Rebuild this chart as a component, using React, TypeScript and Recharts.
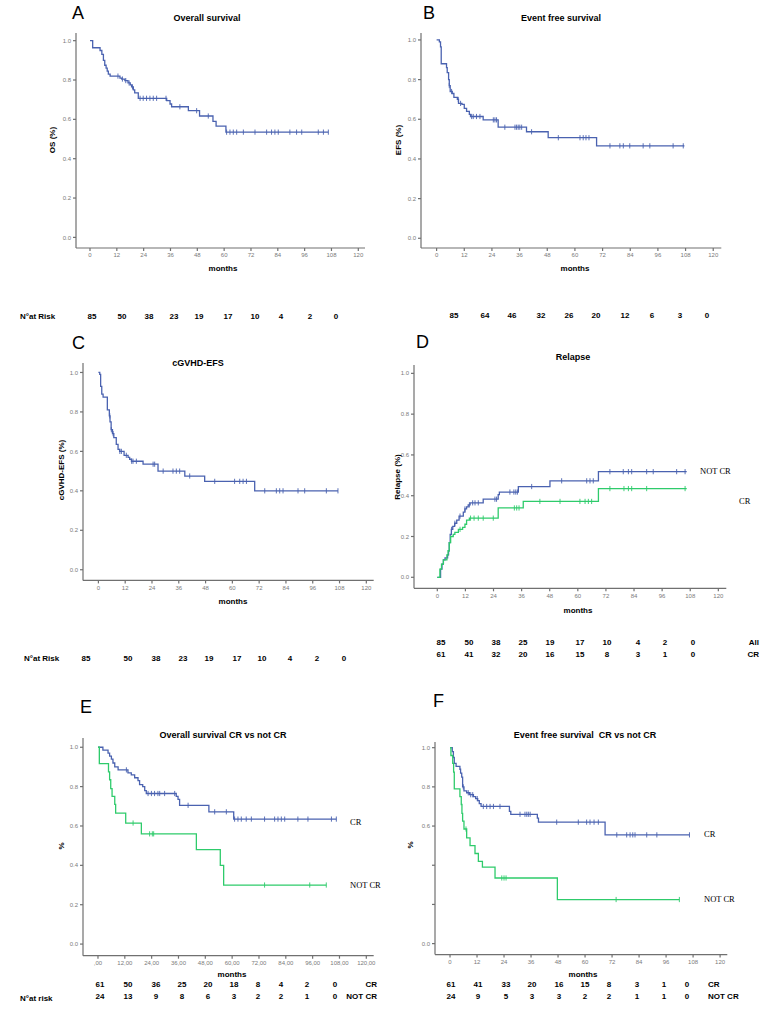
import React from "react";
import { ComposedChart, Line, Scatter, XAxis, YAxis } from "recharts";

// ---------------- DATA ----------------
// A: Overall survival
const osT = [0, 1.2, 4.5, 5.3, 6.0, 6.6, 7.2, 7.7, 8.2, 9.0, 13.4, 14.2, 15.6, 17.0, 18.0, 18.6, 19.4, 20.0, 21.6, 34.3, 35.8, 36.5, 44.0, 49.0, 55.0, 56.4, 60.8];
const osS = [1.0, 0.964, 0.95, 0.93, 0.9, 0.875, 0.86, 0.845, 0.83, 0.82, 0.81, 0.805, 0.797, 0.785, 0.775, 0.765, 0.75, 0.735, 0.707, 0.695, 0.678, 0.664, 0.644, 0.617, 0.59, 0.566, 0.535];
const osEnd = 106.6;
const osCens = [12.5, 14.5, 16.0, 17.5, 19.0, 22.4, 23.8, 25.3, 26.8, 28.3, 29.8, 34.0, 40.2, 47.7, 52.9, 61.1, 62.6, 64.1, 65.6, 68.6, 73.8, 79.0, 81.2, 82.7, 84.2, 89.4, 92.4, 94.7, 102.1, 104.4, 106.6];
const riskA = ["85", "50", "38", "23", "19", "17", "10", "4", "2", "0"];

// B: Event free survival
const efsT = [0, 1.2, 1.7, 2.0, 4.3, 4.6, 5.2, 5.5, 5.9, 6.8, 7.5, 9.0, 9.5, 11.0, 12.0, 13.0, 14.2, 14.7, 20.2, 26.7, 39.0, 48.4, 69.4];
const efsS = [1.0, 0.99, 0.965, 0.88, 0.86, 0.835, 0.8, 0.77, 0.74, 0.73, 0.71, 0.7, 0.68, 0.675, 0.655, 0.64, 0.625, 0.614, 0.597, 0.56, 0.537, 0.507, 0.466];
const efsEnd = 107.5;
const efsCens = [5.5, 6.5, 9.4, 10.4, 15.2, 15.9, 17.3, 18.8, 24.6, 25.3, 26.0, 29.6, 34.0, 34.7, 35.4, 36.1, 36.9, 41.2, 52.8, 62.2, 63.6, 64.8, 66.1, 75.2, 79.5, 81.0, 83.8, 89.6, 92.5, 102.6, 107.0];
const riskB = ["85", "64", "46", "32", "26", "20", "12", "6", "3", "0"];

// C: cGVHD-EFS
const gT = [0, 0.6, 1.0, 1.5, 2.1, 4.0, 4.9, 5.2, 5.7, 6.3, 6.9, 8.0, 8.8, 9.5, 11.5, 13.3, 14.0, 14.8, 20.0, 26.7, 38.7, 47.6, 70.0];
const gS = [1.0, 0.99, 0.93, 0.89, 0.875, 0.81, 0.78, 0.75, 0.71, 0.69, 0.67, 0.635, 0.61, 0.6, 0.58, 0.57, 0.56, 0.55, 0.535, 0.5, 0.475, 0.448, 0.4];
const gEnd = 107.3;
const gCens = [5.1, 5.8, 6.6, 9.6, 10.3, 12.5, 14.9, 15.5, 17.0, 24.5, 25.2, 29.0, 33.4, 34.9, 36.4, 40.9, 52.1, 61.0, 63.3, 64.8, 66.3, 74.5, 79.7, 81.2, 82.7, 89.4, 92.4, 102.1, 107.3];
const riskC = ["85", "50", "38", "23", "19", "17", "10", "4", "2", "0"];

// D: Relapse
const relAllT = [0, 1.4, 2.0, 2.6, 3.3, 4.4, 4.8, 5.1, 5.5, 6.0, 6.6, 7.4, 8.3, 9.3, 11.1, 11.8, 12.5, 13.2, 14.0, 19.6, 26.0, 26.5, 34.6, 48.1, 68.8];
const relAllS = [0, 0.04, 0.065, 0.085, 0.095, 0.11, 0.13, 0.17, 0.21, 0.235, 0.25, 0.265, 0.28, 0.3, 0.32, 0.335, 0.345, 0.355, 0.365, 0.383, 0.405, 0.418, 0.445, 0.473, 0.518];
const relAllEnd = 106.5;
const relAllCens = [6.1, 7.5, 9.7, 11.8, 13.7, 15.1, 16.1, 17.5, 24.6, 25.3, 31.0, 32.7, 33.5, 34.2, 40.3, 53.1, 63.8, 65.2, 66.6, 73.7, 79.4, 81.6, 83.0, 89.4, 92.2, 102.2, 105.8];
const relCrT = [0, 1.1, 1.8, 2.6, 4.1, 4.6, 5.1, 5.7, 6.8, 7.5, 9.0, 10.8, 11.8, 12.5, 13.7, 26.0, 36.7, 68.8];
const relCrS = [0, 0.04, 0.065, 0.085, 0.11, 0.13, 0.17, 0.2, 0.21, 0.22, 0.235, 0.245, 0.26, 0.28, 0.29, 0.34, 0.372, 0.435];
const relCrEnd = 106.5;
const relCrCens = [9.7, 14.2, 15.7, 17.5, 19.6, 23.9, 32.9, 33.9, 34.9, 43.8, 52.4, 60.9, 63.1, 64.5, 65.9, 73.7, 79.7, 81.6, 83.0, 89.4, 105.8];
const riskDAll = ["85", "50", "38", "25", "19", "17", "10", "4", "2", "0"];
const riskDCr = ["61", "41", "32", "20", "16", "15", "8", "3", "1", "0"];

// E: Overall survival CR vs not CR
const osCrT = [0, 2.2, 4.5, 5.2, 6.0, 6.7, 7.5, 9.0, 13.4, 14.9, 16.4, 17.9, 18.6, 20.0, 20.9, 21.6, 35.0, 35.8, 36.5, 49.6, 60.7];
const osCrS = [1.0, 0.985, 0.97, 0.955, 0.94, 0.92, 0.9, 0.885, 0.87, 0.86, 0.845, 0.83, 0.81, 0.8, 0.78, 0.765, 0.75, 0.735, 0.705, 0.672, 0.635];
const osCrEnd = 106.6;
const osCrCens = [12.7, 22.4, 23.9, 25.3, 26.8, 27.6, 29.8, 34.3, 40.3, 52.2, 57.4, 61.1, 62.6, 64.1, 66.3, 68.6, 74.5, 79.0, 80.5, 82.0, 83.5, 89.4, 93.9, 104.4, 106.6];
const osNcrT = [0, 0.6, 4.7, 5.2, 5.7, 6.3, 7.5, 7.9, 12.4, 19.4, 44.0, 54.7, 56.2];
const osNcrS = [1.0, 0.917, 0.875, 0.835, 0.79, 0.75, 0.71, 0.665, 0.615, 0.56, 0.48, 0.4, 0.3];
const osNcrEnd = 102.1;
const osNcrCens = [15.7, 23.1, 24.3, 24.9, 74.5, 94.7, 102.1];
const riskECr = ["61", "50", "36", "25", "20", "18", "8", "4", "2", "0"];
const riskENcr = ["24", "13", "9", "8", "6", "3", "2", "2", "1", "0"];

// F: Event free survival CR vs not CR
const efsCrT = [0, 1.0, 1.5, 1.9, 2.7, 4.4, 4.7, 5.2, 5.6, 6.2, 7.4, 8.6, 10.4, 11.4, 12.3, 13.0, 13.8, 26.4, 27.0, 38.8, 39.3, 68.9];
const efsCrS = [1.0, 0.98, 0.95, 0.92, 0.905, 0.89, 0.87, 0.85, 0.8, 0.78, 0.77, 0.76, 0.75, 0.74, 0.73, 0.715, 0.7, 0.675, 0.66, 0.64, 0.62, 0.555];
const efsCrEnd = 106.4;
const efsCrCens = [5.9, 8.1, 9.2, 10.1, 12.1, 14.8, 16.3, 17.8, 19.3, 22.2, 31.1, 33.3, 34.1, 34.8, 35.6, 47.4, 57.0, 60.7, 62.2, 64.0, 65.9, 74.1, 78.5, 80.0, 81.2, 82.2, 87.4, 91.9, 106.4];
const efsNcrT = [0, 0.4, 1.2, 1.6, 1.9, 4.4, 5.0, 5.3, 5.6, 6.2, 7.4, 8.9, 11.1, 12.6, 14.4, 20.0, 47.7];
const efsNcrS = [1.0, 0.96, 0.92, 0.875, 0.79, 0.75, 0.71, 0.665, 0.625, 0.585, 0.54, 0.5, 0.46, 0.42, 0.39, 0.335, 0.225];
const efsNcrEnd = 101.9;
const efsNcrCens = [7.1, 23.0, 24.0, 24.9, 73.8, 101.9];
const riskFCr = ["61", "41", "33", "20", "16", "15", "8", "3", "1", "0"];
const riskFNcr = ["24", "9", "5", "3", "3", "2", "2", "1", "1", "0"];

const monthTicks = [0, 12, 24, 36, 48, 60, 72, 84, 96, 108, 120];
const probTicks = [0, 0.2, 0.4, 0.6, 0.8, 1.0];

// ---------------- STYLE / LAYOUT ----------------
const BLUE = "#4a62b0";
const GREEN = "#2ecb6b";
const AXIS = "#707070";
const TICKTXT = "#7a7a7a";
const SANS = "'Liberation Sans', Arial, sans-serif";
const SERIF = "'Liberation Serif', 'Times New Roman', serif";

type Curve = { t: number[]; s: number[]; end: number; cens: number[]; color: string };
type Rect = { l: number; r: number; t: number; b: number };

function stepData(c: Curve) {
  const pts = c.t.map((t, i) => ({ x: t, y: c.s[i] }));
  pts.push({ x: c.end, y: c.s[c.s.length - 1] });
  return pts;
}
function valueAt(c: Curve, x: number) {
  let v = c.s[0];
  for (let i = 0; i < c.t.length; i++) if (c.t[i] <= x) v = c.s[i];
  return v;
}
function censorData(c: Curve) {
  return c.cens.map((x) => ({ x, y: valueAt(c, x) }));
}
const censorShape = (color: string) => (props: any) => {
  const { cx, cy } = props;
  if (cx == null || cy == null) return <g />;
  return <line x1={cx} x2={cx} y1={cy - 2.6} y2={cy + 2.6} stroke={color} strokeWidth={0.9} />;
};

const fmtY = (v: number) => v.toFixed(1);
const fmtX = (v: number) => String(v);
const fmtXComma = (v: number) => (v === 0 ? ",00" : `${v},00`);
const fmtYF = (v: number) => (v === 0.2 || v === 0.4 ? "" : v.toFixed(1));

function KMPanel(props: {
  plot: Rect;
  xDomain: [number, number];
  yDomain: [number, number];
  curves: Curve[];
  xFmt: (v: number) => string;
  yFmt: (v: number) => string;
}) {
  const { plot, xDomain, yDomain, curves, xFmt, yFmt } = props;
  const YW = 40;
  const XH = 20;
  const PAD = 4;
  const left = plot.l - YW;
  const top = plot.t - PAD;
  const width = plot.r - plot.l + YW + PAD;
  const height = plot.b - plot.t + PAD + XH;
  return (
    <div style={{ position: "absolute", left, top, width, height }}>
      <ComposedChart width={width} height={height} margin={{ top: PAD, right: PAD, bottom: 0, left: 0 }}>
        <XAxis
          type="number"
          dataKey="x"
          domain={xDomain}
          ticks={monthTicks}
          interval={0}
          allowDataOverflow
          height={XH}
          tickSize={3}
          tickMargin={2}
          stroke={AXIS}
          strokeWidth={1.2}
          tick={{ fontSize: 6, fill: TICKTXT, fontFamily: SANS }}
          tickFormatter={xFmt}
        />
        <YAxis
          type="number"
          dataKey="y"
          domain={yDomain}
          ticks={probTicks}
          interval={0}
          allowDataOverflow
          width={YW}
          tickSize={3}
          tickMargin={2}
          stroke={AXIS}
          strokeWidth={1.2}
          tick={{ fontSize: 6, fill: TICKTXT, fontFamily: SANS }}
          tickFormatter={yFmt}
        />
        {curves.map((c, i) => (
          <Line
            key={"l" + i}
            data={stepData(c)}
            dataKey="y"
            type="stepAfter"
            stroke={c.color}
            strokeWidth={1.3}
            dot={false}
            activeDot={false}
            isAnimationActive={false}
          />
        ))}
        {curves.map((c, i) => (
          <Scatter
            key={"s" + i}
            data={censorData(c)}
            dataKey="y"
            shape={censorShape(c.color)}
            isAnimationActive={false}
          />
        ))}
      </ComposedChart>
    </div>
  );
}

const T = (p: {
  x: number;
  y: number;
  children: React.ReactNode;
  size?: number;
  bold?: boolean;
  anchor?: "start" | "middle" | "end";
  rotate?: boolean;
  serif?: boolean;
  color?: string;
}) => (
  <text
    x={p.x}
    y={p.y}
    fontSize={p.size ?? 8}
    fontWeight={p.bold ? "bold" : "normal"}
    textAnchor={p.anchor ?? "middle"}
    fontFamily={p.serif ? SERIF : SANS}
    fill={p.color ?? "#000"}
    style={{ whiteSpace: "pre" }}
    transform={p.rotate ? `rotate(-90 ${p.x} ${p.y})` : undefined}
  >
    {p.children}
  </text>
);

function RiskRow(p: { values: string[]; cols: number[]; y: number }) {
  return (
    <>
      {p.values.map((v, i) => (
        <T key={i} x={p.cols[i]} y={p.y} bold size={8}>
          {v}
        </T>
      ))}
    </>
  );
}

// column positions (layout)
const colsA = [92, 122, 149, 174, 199, 228, 255, 281, 310, 336];
const colsB = [454, 485, 512, 541, 569, 596, 625, 652, 680, 707];
const colsC = [86, 128, 156, 183, 209, 237, 262, 290, 317, 344];
const colsD = [441, 469, 496, 523, 550, 580, 607, 638, 665, 693];
const colsE = [100, 128, 156, 182, 208, 234, 258, 281, 307, 335];
const colsF = [451, 478, 506, 532, 559, 585, 609, 637, 664, 687];

export default function App() {
  const curveA: Curve = { t: osT, s: osS, end: osEnd, cens: osCens, color: BLUE };
  const curveB: Curve = { t: efsT, s: efsS, end: efsEnd, cens: efsCens, color: BLUE };
  const curveC: Curve = { t: gT, s: gS, end: gEnd, cens: gCens, color: BLUE };
  const curveDAll: Curve = { t: relAllT, s: relAllS, end: relAllEnd, cens: relAllCens, color: BLUE };
  const curveDCr: Curve = { t: relCrT, s: relCrS, end: relCrEnd, cens: relCrCens, color: GREEN };
  const curveECr: Curve = { t: osCrT, s: osCrS, end: osCrEnd, cens: osCrCens, color: BLUE };
  const curveENcr: Curve = { t: osNcrT, s: osNcrS, end: osNcrEnd, cens: osNcrCens, color: GREEN };
  const curveFCr: Curve = { t: efsCrT, s: efsCrS, end: efsCrEnd, cens: efsCrCens, color: BLUE };
  const curveFNcr: Curve = { t: efsNcrT, s: efsNcrS, end: efsNcrEnd, cens: efsNcrCens, color: GREEN };

  return (
    <div style={{ position: "absolute", left: 0, top: 0, width: 766, height: 1011, background: "#fff", overflow: "hidden" }}>
      <KMPanel plot={{ l: 76, r: 365, t: 33, b: 248 }} xDomain={[-6.26, 123]} yDomain={[-0.054, 1.039]} curves={[curveA]} xFmt={fmtX} yFmt={fmtY} />
      <KMPanel plot={{ l: 420.7, r: 721, t: 33, b: 248 }} xDomain={[-6.77, 123.5]} yDomain={[-0.049, 1.035]} curves={[curveB]} xFmt={fmtX} yFmt={fmtY} />
      <KMPanel plot={{ l: 83.3, r: 374, t: 363.3, b: 580.7 }} xDomain={[-6.9, 123.3]} yDomain={[-0.054, 1.048]} curves={[curveC]} xFmt={fmtX} yFmt={fmtY} />
      <KMPanel plot={{ l: 413.7, r: 726, t: 365, b: 588.3 }} xDomain={[-9.95, 123.4]} yDomain={[-0.054, 1.041]} curves={[curveDAll, curveDCr]} xFmt={fmtX} yFmt={fmtY} />
      <KMPanel plot={{ l: 83.3, r: 374, t: 738, b: 955.7 }} xDomain={[-6.7, 123.3]} yDomain={[-0.059, 1.047]} curves={[curveECr, curveENcr]} xFmt={fmtXComma} yFmt={fmtY} />
      <KMPanel plot={{ l: 434.7, r: 727, t: 741.7, b: 954.3 }} xDomain={[-6.67, 123.2]} yDomain={[-0.056, 1.029]} curves={[curveFCr, curveFNcr]} xFmt={fmtX} yFmt={fmtYF} />

      <svg width={766} height={1011} style={{ position: "absolute", left: 0, top: 0, pointerEvents: "none" }}>
        {/* Panel A */}
        <T x={72} y={19} size={18} anchor="start">A</T>
        <T x={207} y={21} size={9} bold>Overall survival</T>
        <T x={55} y={140} size={8} bold rotate>OS (%)</T>
        <T x={223} y={271} size={8} bold>months</T>
        <T x={20} y={319} size={8} bold anchor="start">N°at Risk</T>
        <RiskRow values={riskA} cols={colsA} y={319} />

        {/* Panel B */}
        <T x={423} y={19} size={18} anchor="start">B</T>
        <T x={561} y={21} size={9} bold>Event free survival</T>
        <T x={401} y={140} size={8} bold rotate>EFS (%)</T>
        <T x={575} y={271} size={8} bold>months</T>
        <RiskRow values={riskB} cols={colsB} y={318} />

        {/* Panel C */}
        <T x={72} y={349} size={18} anchor="start">C</T>
        <T x={198} y={366} size={9} bold>cGVHD-EFS</T>
        <T x={64} y={470} size={8} bold rotate>cGVHD-EFS (%)</T>
        <T x={233} y={604} size={8} bold>months</T>
        <T x={24} y={661} size={8} bold anchor="start">N°at Risk</T>
        <RiskRow values={riskC} cols={colsC} y={661} />

        {/* Panel D */}
        <T x={416} y={348} size={18} anchor="start">D</T>
        <T x={573} y={360} size={9} bold>Relapse</T>
        <T x={400} y={477} size={8} bold rotate>Relapse (%)</T>
        <T x={578} y={613} size={8} bold>months</T>
        <T x={700} y={474} size={8.5} serif anchor="start">NOT CR</T>
        <T x={739} y={504} size={8.5} serif anchor="start">CR</T>
        <RiskRow values={riskDAll} cols={colsD} y={645} />
        <RiskRow values={riskDCr} cols={colsD} y={657} />
        <T x={759} y={645} size={8} bold anchor="end">All</T>
        <T x={759} y={657} size={8} bold anchor="end">CR</T>

        {/* Panel E */}
        <T x={80} y={713} size={18} anchor="start">E</T>
        <T x={223} y={738} size={9} bold>Overall survival CR vs not CR</T>
        <T x={64} y={846} size={8} bold rotate>%</T>
        <T x={232} y={977} size={8} bold>months</T>
        <T x={350} y={825} size={8.5} serif anchor="start">CR</T>
        <T x={350} y={888} size={8.5} serif anchor="start">NOT CR</T>
        <RiskRow values={riskECr} cols={colsE} y={987} />
        <RiskRow values={riskENcr} cols={colsE} y={999} />
        <T x={377} y={987} size={8} bold anchor="end">CR</T>
        <T x={377} y={999} size={8} bold anchor="end">NOT CR</T>
        <T x={20} y={1001} size={8} bold anchor="start">N°at risk</T>

        {/* Panel F */}
        <T x={433} y={707} size={18} anchor="start">F</T>
        <T x={585} y={738} size={9} bold>{"Event free survival  CR vs not CR"}</T>
        <T x={413} y={845} size={8} bold rotate>%</T>
        <T x={583} y={977} size={8} bold>months</T>
        <T x={704} y={837} size={8.5} serif anchor="start">CR</T>
        <T x={704} y={902} size={8.5} serif anchor="start">NOT CR</T>
        <RiskRow values={riskFCr} cols={colsF} y={987} />
        <RiskRow values={riskFNcr} cols={colsF} y={999} />
        <T x={708} y={987} size={8} bold anchor="start">CR</T>
        <T x={708} y={999} size={8} bold anchor="start">NOT CR</T>
      </svg>
    </div>
  );
}
